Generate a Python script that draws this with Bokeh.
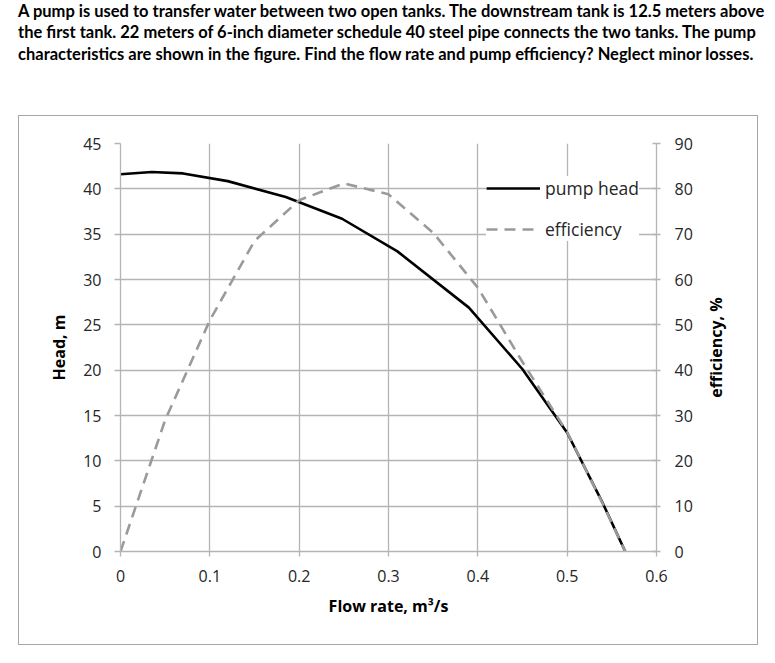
from bokeh.plotting import figure
from bokeh.layouts import column, row
from bokeh.models import (Range1d, LinearAxis, FixedTicker, Legend, LegendItem, Div)
from bokeh.embed import file_html
from bokeh.resources import INLINE

# ---- data ----
q_head = [0, 0.035, 0.07, 0.12, 0.185, 0.248, 0.31, 0.39, 0.45, 0.5, 0.54, 0.565]
head = [41.6, 41.85, 41.7, 40.85, 39.1, 36.7, 33.1, 26.9, 20.1, 13.1, 5.3, 0]

q_eff = [0, 0.05, 0.1, 0.15, 0.2, 0.25, 0.3, 0.35, 0.4, 0.45, 0.5, 0.54, 0.565]
eff = [0, 29, 51, 68.5, 77.5, 81.2, 78.8, 70.3, 58.2, 41.8, 26.3, 10.5, 0]

x_ticks = [0, 0.1, 0.2, 0.3, 0.4, 0.5, 0.6]
head_ticks = [0, 5, 10, 15, 20, 25, 30, 35, 40, 45]
eff_ticks = [0, 10, 20, 30, 40, 50, 60, 70, 80, 90]

title_lines = [
    "A pump is used to transfer water between two open tanks. The downstream tank is 12.5 meters above",
    "the first tank. 22 meters of 6-inch diameter schedule 40 steel pipe connects the two tanks. The pump",
    "characteristics are shown in the figure. Find the flow rate and pump efficiency? Neglect minor losses.",
]

FONT = "Open Sans"
TFONT = "Lato"
GRID = "#b4b4b4"
TXT = "#262626"

# ---------------- title block ----------------
title = Div(text="<br>".join(title_lines), width=775, height=115, margin=0,
            styles={"font-family": TFONT, "font-size": "16.5px", "font-weight": "bold",
                    "line-height": "21.3px", "color": "#000000", "white-space": "nowrap",
                    "padding-left": "18px", "padding-top": "1px",
                    "box-sizing": "border-box"})

# ---------------- chart ----------------
W, H = 682, 528
L, R, T, B = 101, 45, 27, 93
p = figure(width=W, height=H, x_range=Range1d(0, 0.6), y_range=Range1d(0, 45),
           output_backend="svg", toolbar_location=None,
           min_border_left=L, min_border_right=R, min_border_top=T,
           min_border_bottom=B, outline_line_color=None, margin=0)
p.extra_y_ranges = {"eff": Range1d(0, 90)}

left = p.yaxis[0]
bottom = p.xaxis[0]

bottom.ticker = FixedTicker(ticks=x_ticks)
bottom.major_label_overrides = {0: "0"}
left.ticker = FixedTicker(ticks=head_ticks)
p.xgrid.ticker = FixedTicker(ticks=x_ticks)
p.ygrid.ticker = FixedTicker(ticks=head_ticks)
for g in (p.xgrid, p.ygrid):
    g.grid_line_color = GRID
    g.grid_line_width = 1.3

right = LinearAxis(y_range_name="eff", ticker=FixedTicker(ticks=eff_ticks))
p.add_layout(right, "right")

bottom.axis_label = "Flow rate, m³/s"
left.axis_label = "Head, m"

for ax in (bottom, left, right):
    ax.axis_line_color = GRID
    ax.axis_line_width = 1.3
    ax.major_tick_line_color = GRID
    ax.major_tick_line_width = 1.3
    ax.minor_tick_line_color = None
    ax.major_label_text_font = FONT
    ax.major_label_text_font_size = "16px"
    ax.major_label_text_color = TXT
    ax.axis_label_text_font = FONT
    ax.axis_label_text_font_size = "16px"
    ax.axis_label_text_font_style = "bold"
    ax.axis_label_text_color = "#000000"

bottom.major_tick_out = 5
bottom.major_tick_in = 0
bottom.major_label_standoff = 13
bottom.axis_label_standoff = 10
left.major_tick_out = 6
left.major_tick_in = 0
left.major_label_standoff = 13
left.axis_label_standoff = 10
right.major_tick_out = 4
right.major_tick_in = 4
right.major_label_standoff = 14

# curves
r_head = p.line(q_head, head, line_color="black", line_width=2.6)
r_eff = p.line(q_eff, eff, y_range_name="eff", line_color="#9a9a9a",
               line_width=2.6, line_dash="11 7")

legend = Legend(items=[LegendItem(label="pump head", renderers=[r_head]),
                       LegendItem(label="efficiency", renderers=[r_eff])],
                location=(366, 310), glyph_width=54, spacing=17,
                label_text_font=FONT, label_text_font_size="17.5px",
                label_text_color=TXT, border_line_color=None,
                background_fill_color="white", background_fill_alpha=1.0,
                padding=6, label_standoff=5)
p.add_layout(legend)

# ---------------- secondary-axis title strip (reads bottom-to-top) ----------------
side = figure(width=56, height=H, x_range=Range1d(0, 1), y_range=Range1d(0, 90),
              output_backend="svg", toolbar_location=None,
              min_border_left=0, min_border_right=0, min_border_top=T,
              min_border_bottom=B, outline_line_color=None, margin=0,
              x_axis_type=None, y_axis_type=None)
side.grid.visible = False
eff_title = LinearAxis(ticker=FixedTicker(ticks=[]), axis_label="efficiency, %",
                       axis_line_color=None, major_tick_line_color=None,
                       minor_tick_line_color=None, axis_label_standoff=0,
                       axis_label_text_font=FONT, axis_label_text_font_size="16px",
                       axis_label_text_font_style="bold",
                       axis_label_text_color="#000000")
side.add_layout(eff_title, "left")

chart = row(p, side, margin=(0, 0, 0, 18),
            styles={"border": "1px solid #a6a6a6"})

layout = column(title, chart)
open("out.html", "w").write(file_html(layout, INLINE))
